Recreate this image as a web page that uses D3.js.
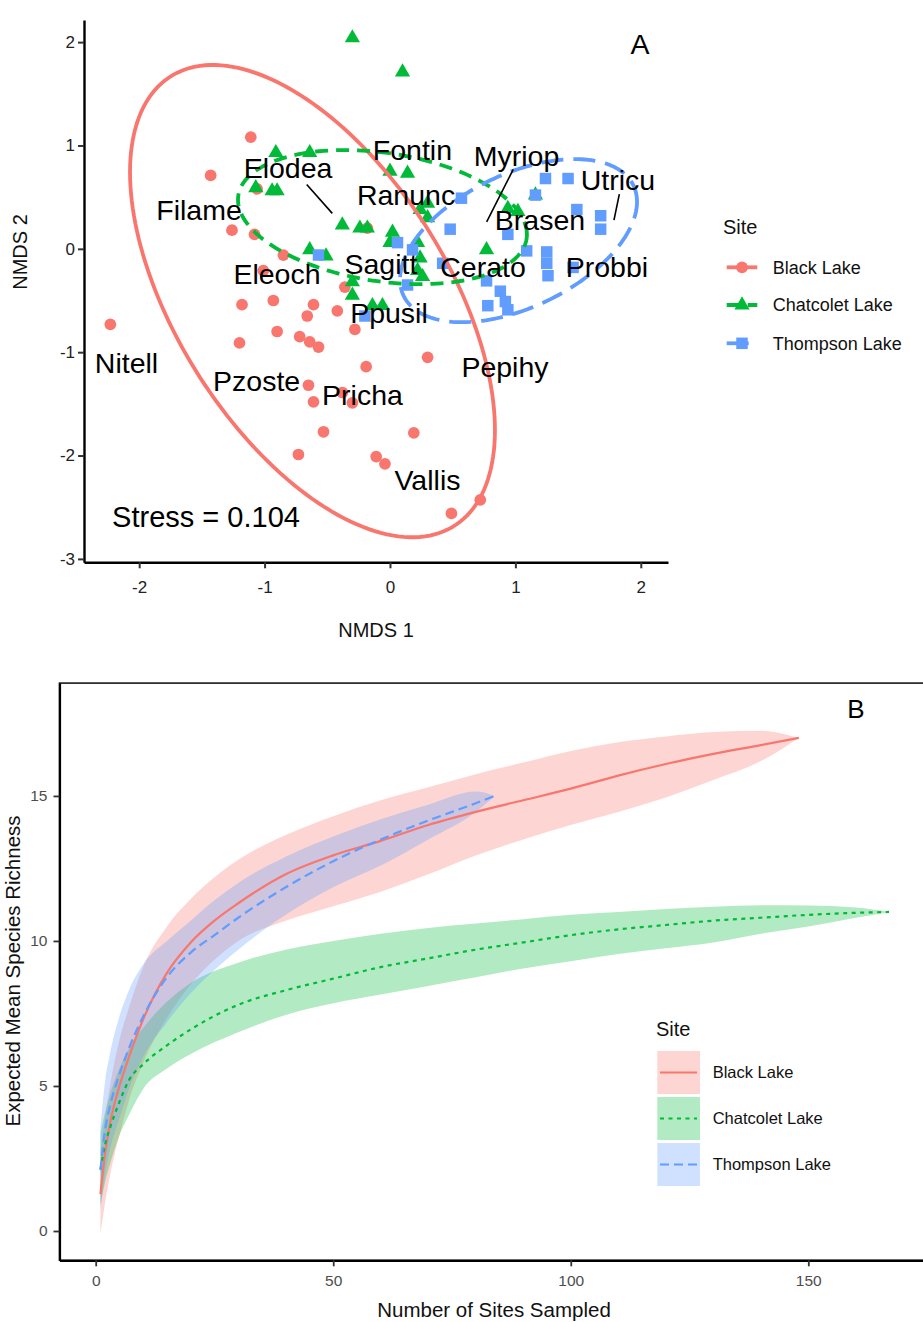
<!DOCTYPE html>
<html>
<head>
<meta charset="utf-8">
<script src="https://cdn.jsdelivr.net/npm/d3@7"></script>
<style>
  body { margin: 0; background: #ffffff; }
  svg { display: block; }
  text { font-family: "Liberation Sans", Arial, sans-serif; }
</style>
</head>
<body>
<svg id="fig" width="923" height="1322"></svg>
<script>
// ---------- shared ----------
const sites = ["Black Lake", "Chatcolet Lake", "Thompson Lake"];
const siteColors = ["#F8766D", "#00BA38", "#619CFF"];

// ---------- panel A: NMDS ordination ----------
const blackNMDS1 = [-2.23, -1.11, -1.43, -1.26, -1.08, -0.85, -1.01, -1.18, -0.93, -0.61, -0.42, -0.66, -0.36, -0.90, -0.28, -1.20, -0.72, -0.64, -0.57, 0.30, -0.19, -0.65, -0.61, -0.38, -0.30, -0.53, 0.19, -0.73, -0.11, -0.04, 0.49, 0.72, -0.18, -1.06];
const blackNMDS2 = [-0.73, 1.08, 0.71, 0.18, 0.14, -0.06, -0.21, -0.54, -0.50, -0.54, -0.60, -0.65, -0.37, -0.80, -0.78, -0.91, -0.85, -0.90, -0.95, -1.05, -1.14, -1.32, -1.48, -1.39, -1.49, -1.77, -1.78, -1.99, -2.01, -2.08, -2.56, -2.43, 0.20, 0.58];

const chatNMDS1 = [-0.30, 0.10, -0.91, -0.64, -1.07, -0.94, -0.90, -0.38, -0.24, -0.18, 0.00, 0.14, 0.02, 0.00, -0.64, -0.51, -0.30, -0.30, -0.14, -0.06, 0.24, 0.30, 0.30, 0.22, 0.24, 0.22, 0.26, 0.94, 1.02, 1.16, 0.77];
const chatNMDS2 = [2.04, 1.71, 0.93, 0.93, 0.59, 0.56, 0.56, 0.23, 0.20, 0.20, 0.75, 0.73, 0.16, 0.06, -0.01, -0.07, -0.32, -0.45, -0.55, -0.55, 0.38, 0.44, 0.30, 0.06, -0.09, -0.21, -0.27, 0.39, 0.36, 0.52, -0.01];

const thompNMDS1 = [-0.57, 0.06, 0.18, 0.14, -0.20, 0.48, 0.57, 1.16, 1.24, 1.42, 1.49, 1.68, 1.68, 0.94, 1.09, 1.25, 1.25, 1.26, 1.46, 0.77, 0.88, 0.92, 0.78, 0.94, 0.42];
const thompNMDS2 = [-0.06, 0.06, -0.01, -0.35, -0.65, 0.19, 0.49, 0.52, 0.68, 0.68, 0.38, 0.32, 0.19, 0.14, -0.02, -0.03, -0.14, -0.26, -0.18, -0.31, -0.41, -0.51, -0.55, -0.59, -0.14];

// species labels (text positions in ordination space)
const speciesNames = ["Fontin", "Myriop", "Utricu", "Elodea", "Ranunc", "Filame", "Brasen", "Eleoch", "Sagitt", "Cerato", "Probbi", "Ppusil", "Nitell", "Pzoste", "Pricha", "Pepihy", "Vallis"];
const speciesNMDS1 = [0.179, 1.009, 1.818, -0.813, 0.128, -1.523, 1.196, -0.901, -0.072, 0.742, 1.730, -0.008, -2.101, -1.063, -0.219, 0.917, 0.299];
const speciesNMDS2 = [0.955, 0.899, 0.668, 0.781, 0.520, 0.375, 0.281, -0.245, -0.148, -0.174, -0.174, -0.618, -1.106, -1.281, -1.416, -1.145, -2.239];

// leader segments for repelled labels
const leaderX1 = [-0.664, 0.983, 1.829];
const leaderY1 = [0.623, 0.769, 0.530];
const leaderX2 = [-0.460, 0.771, 1.786];
const leaderY2 = [0.343, 0.261, 0.278];

// 95% confidence ellipses: centre, half-extents and correlation
const ellipseCx = [-0.618, -0.060, 1.025];
const ellipseCy = [-0.506, 0.307, 0.079];
const ellipseRx = [1.455, 1.152, 0.945];
const ellipseRy = [2.285, 0.649, 0.789];
const ellipseRho = [-0.546, -0.259, 0.477];

const stressValue = 0.104;
const nmdsXTicks = [-2, -1, 0, 1, 2];
const nmdsYTicks = [-3, -2, -1, 0, 1, 2];

// ---------- panel B: species accumulation ----------
const blackSites = [1, 2, 3, 5, 7, 10, 15, 20, 25, 30, 40, 50, 60, 70, 80, 90, 100, 110, 120, 130, 140, 148];
const blackRichness = [1.27, 2.7, 3.7, 5.0, 6.0, 7.3, 8.9, 9.95, 10.7, 11.3, 12.3, 12.95, 13.45, 14.0, 14.45, 14.85, 15.25, 15.7, 16.1, 16.45, 16.75, 17.0];
const blackUpper = [2.7, 4.0, 5.0, 6.6, 7.7, 9.1, 10.5, 11.45, 12.2, 12.8, 13.65, 14.3, 14.85, 15.3, 15.75, 16.15, 16.55, 16.85, 17.05, 17.2, 17.25, 17.0];
const blackLower = [-0.1, 1.0, 1.9, 3.3, 4.5, 5.8, 7.35, 8.5, 9.35, 10.0, 10.7, 11.2, 11.7, 12.3, 12.95, 13.5, 14.0, 14.45, 14.95, 15.55, 16.2, 17.0];

const chatSites = [1, 2, 3, 5, 7, 10, 15, 20, 30, 40, 50, 60, 70, 80, 90, 100, 110, 120, 130, 140, 150, 160, 167];
const chatRichness = [2.13, 3.0, 3.55, 4.45, 5.2, 5.75, 6.4, 6.95, 7.8, 8.3, 8.7, 9.1, 9.4, 9.7, 9.95, 10.2, 10.4, 10.55, 10.7, 10.8, 10.9, 10.97, 11.0];
const chatUpper = [3.4, 4.1, 4.7, 5.6, 6.3, 7.0, 7.9, 8.55, 9.25, 9.7, 10.0, 10.25, 10.45, 10.6, 10.75, 10.9, 11.0, 11.1, 11.18, 11.23, 11.22, 11.15, 11.0];
const chatLower = [0.9, 1.7, 2.3, 3.3, 4.0, 4.9, 5.6, 6.1, 6.85, 7.45, 7.85, 8.15, 8.45, 8.75, 9.05, 9.3, 9.55, 9.75, 9.95, 10.25, 10.5, 10.8, 11.0];

const thompSites = [1, 2, 3, 5, 7, 10, 15, 20, 25, 30, 40, 50, 60, 70, 80, 84];
const thompRichness = [2.1, 3.5, 4.3, 5.4, 6.3, 7.4, 8.75, 9.6, 10.2, 10.8, 11.85, 12.75, 13.5, 14.15, 14.75, 15.0];
const thompUpper = [3.6, 5.2, 6.1, 7.4, 8.3, 9.2, 10.0, 10.7, 11.4, 12.0, 12.9, 13.6, 14.2, 14.7, 15.15, 15.0];
const thompLower = [0.7, 2.0, 2.8, 3.9, 4.9, 6.0, 7.2, 8.2, 9.0, 9.7, 10.9, 11.85, 12.6, 13.5, 14.45, 15.0];

const richXTicks = [0, 50, 100, 150];
const richYTicks = [0, 5, 10, 15];

// ======================================================
const svg = d3.select("#fig");
svg.append("rect").attr("width", 923).attr("height", 1322).attr("fill", "#ffffff");

// ---------------- Panel A ----------------
const xA = d3.scaleLinear().domain([-2.44, 2.217]).range([84, 668]);
const yA = d3.scaleLinear().domain([-3.033, 2.214]).range([562.3, 20]);
const gA = svg.append("g");

const zip = (a, b) => a.map((v, i) => [v, b[i]]);
const pointSets = [zip(blackNMDS1, blackNMDS2), zip(chatNMDS1, chatNMDS2), zip(thompNMDS1, thompNMDS2)];
const symbolTypes = [d3.symbolCircle, d3.symbolTriangle, d3.symbolSquare];
const symbolSizes = [108, 100, 132];
const ellipseDash = [null, "13,8", "22,10"];

// points: black, chatcolet, thompson drawn in that order
[0, 1, 2].forEach(k => {
  gA.append("g").selectAll("path")
    .data(pointSets[k])
    .join("path")
    .attr("transform", d => `translate(${xA(d[0])},${yA(d[1])})`)
    .attr("d", d3.symbol().type(symbolTypes[k]).size(symbolSizes[k]))
    .attr("fill", siteColors[k]);
});

// ellipses
const ellipseLine = d3.line().x(d => xA(d[0])).y(d => yA(d[1])).curve(d3.curveLinearClosed);
[0, 1, 2].forEach(k => {
  const s = Math.sqrt(1 - ellipseRho[k] * ellipseRho[k]);
  const pts = d3.range(0, 181).map(i => {
    const t = i / 180 * 2 * Math.PI;
    return [ellipseCx[k] + ellipseRx[k] * Math.cos(t),
            ellipseCy[k] + ellipseRy[k] * (ellipseRho[k] * Math.cos(t) + s * Math.sin(t))];
  });
  gA.append("path")
    .attr("d", ellipseLine(pts))
    .attr("fill", "none")
    .attr("stroke", siteColors[k])
    .attr("stroke-width", 3.8)
    .attr("stroke-dasharray", ellipseDash[k]);
});

// leader segments
gA.append("g").selectAll("line")
  .data(leaderX1.map((v, i) => i))
  .join("line")
  .attr("x1", i => xA(leaderX1[i])).attr("y1", i => yA(leaderY1[i]))
  .attr("x2", i => xA(leaderX2[i])).attr("y2", i => yA(leaderY2[i]))
  .attr("stroke", "#000").attr("stroke-width", 1.6);

// species labels
gA.append("g").selectAll("text")
  .data(speciesNames.map((n, i) => i))
  .join("text")
  .attr("x", i => xA(speciesNMDS1[i]))
  .attr("y", i => yA(speciesNMDS2[i]))
  .attr("dy", "0.36em")
  .attr("text-anchor", "middle")
  .attr("font-size", 28.5)
  .attr("fill", "#000")
  .text(i => speciesNames[i]);

// stress annotation and panel tag
gA.append("text")
  .attr("x", xA(-1.467)).attr("y", yA(-2.586)).attr("dy", "0.36em")
  .attr("text-anchor", "middle").attr("font-size", 29).attr("fill", "#000")
  .text("Stress = " + stressValue.toFixed(3));
gA.append("text")
  .attr("x", xA(1.994)).attr("y", yA(1.982)).attr("dy", "0.36em")
  .attr("text-anchor", "middle").attr("font-size", 28.5).attr("fill", "#000")
  .text("A");

// axes
const axA_x = gA.append("g").attr("transform", `translate(0,${yA.range()[0]})`)
  .call(d3.axisBottom(xA).tickValues(nmdsXTicks).tickFormat(d => String(d)).tickSize(6).tickPadding(13).tickSizeOuter(0));
const axA_y = gA.append("g").attr("transform", `translate(${xA.range()[0]},0)`)
  .call(d3.axisLeft(yA).tickValues(nmdsYTicks).tickFormat(d => String(d)).tickSize(6).tickPadding(3).tickSizeOuter(0));
[axA_x, axA_y].forEach(ax => {
  ax.select(".domain").attr("stroke", "#000").attr("stroke-width", 2.4);
  ax.selectAll(".tick line").attr("stroke", "#333").attr("stroke-width", 2);
  ax.selectAll(".tick text").attr("font-size", 17).attr("fill", "#222").attr("font-family", null);
});

gA.append("text").attr("x", 376).attr("y", 637).attr("text-anchor", "middle")
  .attr("font-size", 20).attr("fill", "#111").text("NMDS 1");
gA.append("text").attr("transform", "translate(27,252) rotate(-90)").attr("text-anchor", "middle")
  .attr("font-size", 20).attr("fill", "#111").text("NMDS 2");

// legend A
const legA = gA.append("g");
legA.append("text").attr("x", 723).attr("y", 234).attr("font-size", 20).attr("fill", "#111").text("Site");
const legAy = [267.3, 305, 343.3];
sites.forEach((name, k) => {
  legA.append("line").attr("x1", 726.7).attr("x2", 757.3).attr("y1", legAy[k]).attr("y2", legAy[k])
    .attr("stroke", siteColors[k]).attr("stroke-width", 3.8).attr("stroke-dasharray", ellipseDash[k]);
  legA.append("path").attr("transform", `translate(742,${legAy[k]})`)
    .attr("d", d3.symbol().type(symbolTypes[k]).size(symbolSizes[k])).attr("fill", siteColors[k]);
  legA.append("text").attr("x", 772.7).attr("y", legAy[k] + 6.4).attr("font-size", 18).attr("fill", "#111").text(name);
});

// ---------------- Panel B ----------------
const xB = d3.scaleLinear().domain([-7.62, 175.3]).range([59.5, 928.5]);
const yB = d3.scaleLinear().domain([-1.01, 18.89]).range([1260.3, 683.1]);
const gB = svg.append("g");

svg.append("clipPath").attr("id", "clipB").append("rect")
  .attr("x", 59.5).attr("y", 683.1).attr("width", 869).attr("height", 577.2);

const curves = [
  { x: blackSites, m: blackRichness, lo: blackLower, hi: blackUpper },
  { x: chatSites, m: chatRichness, lo: chatLower, hi: chatUpper },
  { x: thompSites, m: thompRichness, lo: thompLower, hi: thompUpper }
];
const lineDash = [null, "4,4.5", "9,5"];

const plotB = gB.append("g").attr("clip-path", "url(#clipB)");
const area = d3.area().curve(d3.curveMonotoneX);
const line = d3.line().curve(d3.curveMonotoneX);

curves.forEach((c, k) => {
  const rows = c.x.map((v, i) => i);
  plotB.append("path")
    .attr("d", area.x(i => xB(c.x[i])).y0(i => yB(c.lo[i])).y1(i => yB(c.hi[i]))(rows))
    .attr("fill", siteColors[k]).attr("fill-opacity", 0.3);
});
curves.forEach((c, k) => {
  const rows = c.x.map((v, i) => i);
  plotB.append("path")
    .attr("d", line.x(i => xB(c.x[i])).y(i => yB(c.m[i]))(rows))
    .attr("fill", "none").attr("stroke", siteColors[k]).attr("stroke-width", 2.2)
    .attr("stroke-dasharray", lineDash[k]);
});

// panel border
gB.append("rect").attr("x", 59.5).attr("y", 683.1).attr("width", 869).attr("height", 577.2)
  .attr("fill", "none").attr("stroke", "#1a1a1a").attr("stroke-width", 1.6);

const axB_x = gB.append("g").attr("transform", `translate(0,${yB.range()[0]})`)
  .call(d3.axisBottom(xB).tickValues(richXTicks).tickFormat(d => String(d)).tickSize(6).tickPadding(9).tickSizeOuter(0));
const axB_y = gB.append("g").attr("transform", `translate(${xB.range()[0]},0)`)
  .call(d3.axisLeft(yB).tickValues(richYTicks).tickFormat(d => String(d)).tickSize(6).tickPadding(6).tickSizeOuter(0));
[axB_x, axB_y].forEach(ax => {
  ax.select(".domain").attr("stroke", "#000").attr("stroke-width", 2.2);
  ax.selectAll(".tick line").attr("stroke", "#333").attr("stroke-width", 1.8);
  ax.selectAll(".tick text").attr("font-size", 15.5).attr("fill", "#4D4D4D").attr("font-family", null);
});

gB.append("text").attr("x", 494).attr("y", 1317).attr("text-anchor", "middle")
  .attr("font-size", 20.5).attr("fill", "#111").text("Number of Sites Sampled");
gB.append("text").attr("transform", "translate(20,971) rotate(-90)").attr("text-anchor", "middle")
  .attr("font-size", 20.5).attr("fill", "#111").text("Expected Mean Species Richness");

gB.append("text").attr("x", xB(160)).attr("y", yB(18)).attr("dy", "0.36em")
  .attr("text-anchor", "middle").attr("font-size", 26).attr("fill", "#000").text("B");

// legend B
const legB = gB.append("g");
legB.append("text").attr("x", 656).attr("y", 1036).attr("font-size", 20).attr("fill", "#111").text("Site");
const legBy = [1051, 1097, 1143];
sites.forEach((name, k) => {
  legB.append("rect").attr("x", 657.3).attr("y", legBy[k]).attr("width", 42.7).attr("height", 43)
    .attr("fill", siteColors[k]).attr("fill-opacity", 0.3);
  legB.append("line").attr("x1", 660).attr("x2", 697).attr("y1", legBy[k] + 21.5).attr("y2", legBy[k] + 21.5)
    .attr("stroke", siteColors[k]).attr("stroke-width", 2.2).attr("stroke-dasharray", lineDash[k]);
  legB.append("text").attr("x", 712.7).attr("y", legBy[k] + 21.5 + 5.9).attr("font-size", 16.5)
    .attr("fill", "#111").text(name);
});
</script>
</body>
</html>
